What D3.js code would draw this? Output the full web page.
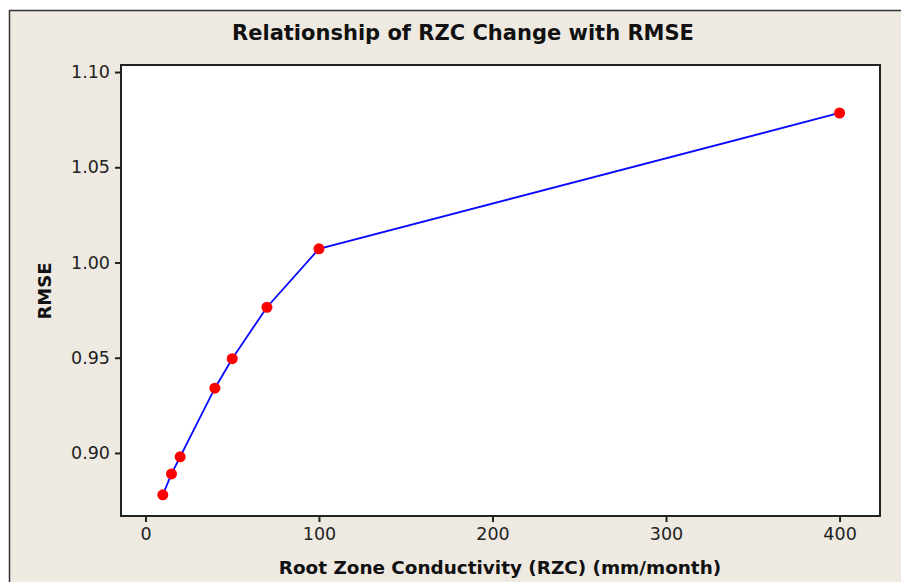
<!DOCTYPE html>
<html>
<head>
<meta charset="utf-8">
<script src="https://cdn.jsdelivr.net/npm/d3@7"></script>
<style>
  body { margin: 0; background: #fff; }
  svg { display: block; }
</style>
</head>
<body>
<div id="chart"></div>
<script>
// RZC values (mm/month) and the RMSE
var rzc = [10, 15, 20, 40, 50, 70, 100, 400];
var rmse = [0.878, 0.889, 0.898, 0.934, 0.9495, 0.9765, 1.0072, 1.0785];
var xTicks = [0, 100, 200, 300, 400];
var yTicks = [0.90, 0.95, 1.00, 1.05, 1.10];

var width = 901, height = 582;
var plot = { left: 121, top: 65, right: 880, bottom: 516 };

var svg = d3.select('#chart').append('svg')
    .attr('width', width)
    .attr('height', height);

// beige frame
svg.append('rect')
    .attr('x', 9.5).attr('y', 10.5)
    .attr('width', 900).attr('height', 580)
    .attr('fill', '#eeeae1')
    .attr('stroke', '#333').attr('stroke-width', 1.5);

var x = d3.scaleLinear().domain([-14.1, 423.3]).range([plot.left, plot.right]);
var y = d3.scaleLinear().domain([0.8669, 1.1037]).range([plot.bottom, plot.top]);

svg.append('rect')
    .attr('x', plot.left).attr('y', plot.top)
    .attr('width', plot.right - plot.left)
    .attr('height', plot.bottom - plot.top)
    .attr('fill', '#fff')
    .attr('stroke', '#222').attr('stroke-width', 2);

var font = 'Tahoma, "DejaVu Sans", sans-serif';

var xAxis = svg.append('g')
    .attr('transform', 'translate(0,' + (plot.bottom + 1) + ')')
    .call(d3.axisBottom(x).tickValues(xTicks).tickSize(5).tickPadding(6).tickFormat(d3.format('d')));
var yAxis = svg.append('g')
    .attr('transform', 'translate(' + (plot.left - 1) + ',0)')
    .call(d3.axisLeft(y).tickValues(yTicks).tickSize(5).tickPadding(5).tickFormat(d3.format('.2f')));

[xAxis, yAxis].forEach(function (g) {
    g.select('.domain').remove();
    g.selectAll('line').attr('stroke', '#222').attr('stroke-width', 2);
    g.selectAll('text')
        .attr('fill', '#222')
        .style('font-family', font)
        .style('font-size', '17.5px');
});

var pts = rzc.map(function (d, i) { return [d, rmse[i]]; });

svg.append('path')
    .datum(pts)
    .attr('fill', 'none')
    .attr('stroke', '#0a0aff')
    .attr('stroke-width', 1.8)
    .attr('d', d3.line()
        .x(function (d) { return x(d[0]); })
        .y(function (d) { return y(d[1]); }));

svg.selectAll('circle.pt')
    .data(pts)
    .enter().append('circle')
    .attr('class', 'pt')
    .attr('cx', function (d) { return x(d[0]); })
    .attr('cy', function (d) { return y(d[1]); })
    .attr('r', 5.5)
    .attr('fill', '#ff0000');

svg.append('text')
    .attr('x', 463).attr('y', 40)
    .attr('text-anchor', 'middle')
    .style('font-family', font)
    .style('font-weight', 'bold')
    .style('font-size', '21px')
    .attr('fill', '#111')
    .text('Relationship of RZC Change with RMSE');

svg.append('text')
    .attr('x', 500).attr('y', 574)
    .attr('text-anchor', 'middle')
    .style('font-family', font)
    .style('font-weight', 'bold')
    .style('font-size', '18.4px')
    .attr('fill', '#111')
    .text('Root Zone Conductivity (RZC) (mm/month)');

svg.append('text')
    .attr('transform', 'translate(51,291) rotate(-90)')
    .attr('text-anchor', 'middle')
    .style('font-family', font)
    .style('font-weight', 'bold')
    .style('font-size', '18px')
    .attr('fill', '#111')
    .text('RMSE');
</script>
</body>
</html>
